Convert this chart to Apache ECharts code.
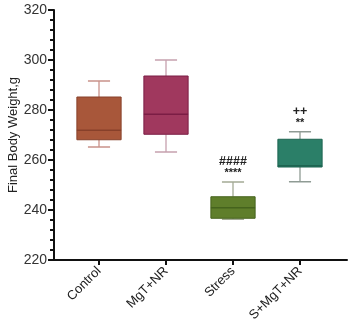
<!DOCTYPE html>
<html><head><meta charset="utf-8">
<script src="https://cdn.jsdelivr.net/npm/echarts@6/dist/echarts.min.js"></script>
<style>html,body{margin:0;padding:0;background:#fff}#c{width:348px;height:322px}</style>
</head><body><div id="c"></div>
<script>
const categories = ['Control', 'MgT+NR', 'Stress', 'S+MgT+NR'];
// [min, Q1, median, Q3, max]
const boxValues = [
  [265.2, 268.1, 271.9, 285.2, 291.6],
  [263.2, 270.3, 278.3, 293.6, 300.0],
  [236.3, 236.7, 240.9, 245.3, 251.2],
  [251.3, 257.2, 257.7, 268.3, 271.3]
];
const fillColors = ['#a8573a', '#a0385e', '#5f7e2b', '#2b7f68'];
const medianColors = ['#87402a', '#7b1d45', '#45631d', '#1d6450'];
const whiskerColors = ['#c9928a', '#c6a0ae', '#a3aa95', '#8f9b94'];
const starLabels = ['', '', '****', '**'];
const signLabels = ['', '', '####', '++'];
const yTicks = [220, 240, 260, 280, 300, 320];

const chart = echarts.init(document.getElementById('c'));
const FONT = 'Liberation Sans, Arial, sans-serif';
const yMin = yTicks[0], yMax = yTicks[yTicks.length - 1];

chart.setOption({
  animation: false,
  grid: [
    { left: 54, right: 1, top: 10, bottom: 62, outerBoundsMode: 'none', containLabel: false },
    { left: 65.5, width: 268, top: 10, bottom: 62, outerBoundsMode: 'none', containLabel: false }
  ],
  xAxis: [
    { gridIndex: 0, type: 'value', min: 0, max: 1, axisLine: { show: true, lineStyle: { color: '#111', width: 2 } },
      axisTick: { show: false }, axisLabel: { show: false }, splitLine: { show: false } },
    { gridIndex: 1, type: 'category', data: categories, boundaryGap: true,
      axisLine: { show: false },
      axisTick: { show: true, alignWithLabel: true, length: 5, lineStyle: { color: '#111', width: 2 } },
      axisLabel: { rotate: 45, fontSize: 13, color: '#222', fontFamily: FONT, margin: 9, interval: 0 } }
  ],
  yAxis: [
    { gridIndex: 0, type: 'value', min: yMin, max: yMax, interval: 20,
      name: 'Final Body Weight,g', nameLocation: 'middle', nameGap: 34, nameMoveOverlap: false,
      nameTextStyle: { fontSize: 13, color: '#222', fontFamily: FONT },
      axisLine: { show: true, lineStyle: { color: '#111', width: 2 } },
      axisTick: { show: true, length: 6, lineStyle: { color: '#111', width: 2 } },
      minorTick: { show: true, splitNumber: 5, length: 4, lineStyle: { color: '#111', width: 2 } },
      axisLabel: { fontSize: 14, color: '#333', fontFamily: FONT, margin: 7 },
      splitLine: { show: false } },
    { gridIndex: 1, type: 'value', min: yMin, max: yMax, show: false }
  ],
  series: [{
    type: 'custom',
    xAxisIndex: 1, yAxisIndex: 1,
    data: boxValues.map((v, i) => [i].concat(v)),
    renderItem: function (params, api) {
      const i = api.value(0);
      const mn = api.coord([i, api.value(1)]);
      const q1 = api.coord([i, api.value(2)]);
      const md = api.coord([i, api.value(3)]);
      const q3 = api.coord([i, api.value(4)]);
      const mx = api.coord([i, api.value(5)]);
      const band = api.size([1, 0])[0];
      const bw = band * 0.66, cw = band * 0.33;
      const x = mn[0];
      const wc = whiskerColors[i];
      const children = [
        { type: 'line', shape: { x1: x, y1: mx[1], x2: x, y2: q3[1] }, style: { stroke: wc, lineWidth: 1.3 } },
        { type: 'line', shape: { x1: x, y1: q1[1], x2: x, y2: mn[1] }, style: { stroke: wc, lineWidth: 1.3 } },
        { type: 'line', shape: { x1: x - cw / 2, y1: mx[1], x2: x + cw / 2, y2: mx[1] }, style: { stroke: wc, lineWidth: 1.5 } },
        { type: 'line', shape: { x1: x - cw / 2, y1: mn[1], x2: x + cw / 2, y2: mn[1] }, style: { stroke: wc, lineWidth: 1.5 } },
        { type: 'rect', shape: { x: x - bw / 2, y: q3[1], width: bw, height: q1[1] - q3[1] },
          style: { fill: fillColors[i], stroke: medianColors[i], lineWidth: 1 } },
        { type: 'line', shape: { x1: x - bw / 2, y1: md[1], x2: x + bw / 2, y2: md[1] }, style: { stroke: medianColors[i], lineWidth: 1.5 } }
      ];
      if (starLabels[i]) {
        children.push({ type: 'text', style: { x: x, y: mx[1] - 9, text: starLabels[i], align: 'center', verticalAlign: 'middle',
          fontSize: 11, fontWeight: 'bold', fill: '#222', fontFamily: FONT } });
      }
      if (signLabels[i]) {
        children.push({ type: 'text', style: { x: x, y: mx[1] - 20, text: signLabels[i], align: 'center', verticalAlign: 'middle',
          fontSize: 12.5, fontWeight: 'bold', fill: '#222', fontFamily: FONT } });
      }
      return { type: 'group', children: children };
    }
  }]
});
</script></body></html>
